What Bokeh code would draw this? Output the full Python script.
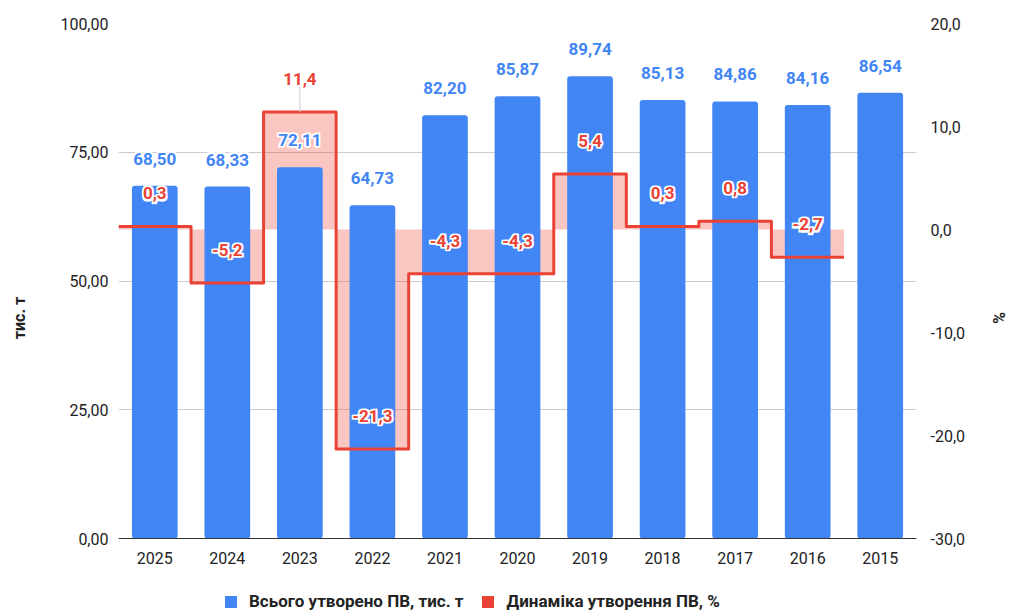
from bokeh.plotting import figure
from bokeh.models import (Range1d, LinearAxis, FixedTicker, CustomJSTickFormatter,
                          ColumnDataSource, Legend, LegendItem)
from bokeh.core.properties import value
from bokeh.embed import file_html
from bokeh.resources import INLINE

years = ["2025", "2024", "2023", "2022", "2021", "2020", "2019", "2018", "2017", "2016", "2015"]
total = [68.50, 68.33, 72.11, 64.73, 82.20, 85.87, 89.74, 85.13, 84.86, 84.16, 86.54]
dynamics = [0.3, -5.2, 11.4, -21.3, -4.3, -4.3, 5.4, 0.3, 0.8, -2.7]
left_ticks = [0, 25, 50, 75, 100]
right_ticks = [-30, -20, -10, 0, 10, 20]
leader_years = ["2023"]

BLUE = "#4285F4"
RED = "#EA4335"
FONT = "Roboto"
LABEL_SIZE = "17px"

n = len(years)
xs = list(range(n))

W, H = 1011, 612
LB, RB, TB = 118, 95, 23
PLOT_H = 515            # pixel height of the data area (0..100)
EXTRA = H - TB - PLOT_H  # space below the baseline kept inside the frame (axis labels + legend)

lpx = PLOT_H / (left_ticks[-1] - left_ticks[0])
rpx = PLOT_H / (right_ticks[-1] - right_ticks[0])

p = figure(width=W, height=H, output_backend="svg", toolbar_location=None,
           x_range=Range1d(-0.5, n - 0.5),
           y_range=Range1d(left_ticks[0] - EXTRA / lpx, left_ticks[-1]),
           x_axis_location=None,
           min_border_left=LB, min_border_right=RB, min_border_top=TB, min_border_bottom=0)
p.outline_line_color = None
p.background_fill_color = "white"
p.extra_y_ranges = {"pct": Range1d(right_ticks[0] - EXTRA / rpx, right_ticks[-1])}


def halo_text(src, color, y_offset, **kw):
    # white halo under the label, then the coloured label on top
    for dx, dy in [(-1.2, -1.2), (1.2, -1.2), (-1.2, 1.2), (1.2, 1.2)]:
        p.text(x="x", y="y", text="lab", source=src, text_align="center",
               text_baseline="middle", x_offset=dx, y_offset=y_offset + dy,
               text_color="white", text_outline_color="white", text_font=value(FONT),
               text_font_size=LABEL_SIZE, text_font_style="bold", **kw)
    p.text(x="x", y="y", text="lab", source=src, text_align="center",
           text_baseline="middle", y_offset=y_offset, text_color=color,
           text_font=value(FONT), text_font_size=LABEL_SIZE, text_font_style="bold", **kw)


# Pink area between step line and zero
nd = len(dynamics)
area_src = ColumnDataSource(dict(x=xs[:nd], top=dynamics, bottom=[0] * nd))
p.vbar(x="x", top="top", bottom="bottom", width=1.0, source=area_src, y_range_name="pct",
       fill_color=RED, fill_alpha=0.3, line_color=None)

# Bars
bar_src = ColumnDataSource(dict(x=xs, y=total,
                                lab=[f"{v:.2f}".replace(".", ",") for v in total]))
bars = p.vbar(x="x", top="y", bottom=0, width=0.63, source=bar_src,
              fill_color=BLUE, line_color=None, border_radius=3)
halo_text(bar_src, BLUE, -27)

# Step line
sx, sy = [], []
for i, v in enumerate(dynamics):
    sx += [i - 0.5, i + 0.5]
    sy += [v, v]
p.line(sx, sy, y_range_name="pct", line_color=RED, line_width=3, line_join="round")

# legend swatch renderer for the dynamics series (zero width, not visible in the plot)
dyn_swatch = p.vbar(x=xs[:nd], top=dynamics, bottom=0, width=0, y_range_name="pct",
                    fill_color=RED, line_color=None)

# Leader lines
lx = [years.index(y) for y in leader_years]
lv = [dynamics[years.index(y)] for y in leader_years]
p.segment(x0=lx, y0=lv, x1=lx, y1=[v + 25 / rpx for v in lv], y_range_name="pct",
          line_color="#cccccc", line_width=1)

dyn_src = ColumnDataSource(dict(x=xs[:nd], y=dynamics,
                                lab=[f"{v:.1f}".replace(".", ",") for v in dynamics]))
halo_text(dyn_src, RED, -33, y_range_name="pct")

# X axis drawn at the baseline (y = 0)
xa = LinearAxis(ticker=FixedTicker(ticks=xs), fixed_location=left_ticks[0])
xa.major_label_overrides = {i: y for i, y in enumerate(years)}
xa.axis_line_color = "#333333"
xa.major_tick_line_color = None
xa.minor_tick_line_color = None
xa.major_label_standoff = 7
xa.major_label_text_font = FONT
xa.major_label_text_font_size = "16px"
xa.major_label_text_color = "#222222"
p.add_layout(xa, "below")
p.xgrid.grid_line_color = None

p.yaxis.ticker = FixedTicker(ticks=left_ticks)
p.yaxis.formatter = CustomJSTickFormatter(code="return tick.toFixed(2).replace('.', ',');")
p.yaxis.axis_line_color = None
p.yaxis.major_tick_line_color = None
p.yaxis.minor_tick_line_color = None
p.yaxis.major_label_standoff = 4
p.yaxis.major_label_text_font = FONT
p.yaxis.major_label_text_font_size = "16px"
p.yaxis.major_label_text_color = "#222222"
p.yaxis.axis_label = "тис. т"
p.yaxis.axis_label_text_font = FONT
p.yaxis.axis_label_text_font_size = "16px"
p.yaxis.axis_label_text_font_style = "bold"
p.yaxis.axis_label_text_color = "#222222"
p.yaxis.axis_label_standoff = 28
p.ygrid.ticker = FixedTicker(ticks=left_ticks)
p.ygrid.grid_line_color = "#cccccc"

ra = LinearAxis(y_range_name="pct", ticker=FixedTicker(ticks=right_ticks),
                formatter=CustomJSTickFormatter(code="return tick.toFixed(1).replace('.', ',');"))
ra.axis_line_color = None
ra.major_tick_line_color = None
ra.minor_tick_line_color = None
ra.major_label_standoff = 8
ra.major_label_text_font = FONT
ra.major_label_text_font_size = "16px"
ra.major_label_text_color = "#222222"
ra.axis_label = "%"
ra.axis_label_text_font = FONT
ra.axis_label_text_font_size = "16px"
ra.axis_label_text_font_style = "bold"
ra.axis_label_text_color = "#222222"
ra.axis_label_standoff = 21
p.add_layout(ra, "right")

# Legend (inside the frame, below the axis labels)
legend = Legend(items=[LegendItem(label="Всього утворено ПВ, тис. т", renderers=[bars]),
                       LegendItem(label="Динаміка утворення ПВ, %", renderers=[dyn_swatch])],
                location=(105, 1), orientation="horizontal")
legend.glyph_width = 15
legend.glyph_height = 15
legend.label_height = 20
legend.label_standoff = 11
legend.spacing = 17
legend.padding = 0
legend.margin = 0
legend.border_line_color = None
legend.background_fill_alpha = 0
legend.label_text_font = FONT
legend.label_text_font_size = "17px"
legend.label_text_font_style = "bold"
legend.label_text_color = "#222222"
p.add_layout(legend, "center")

open("out.html", "w").write(file_html(p, INLINE))
